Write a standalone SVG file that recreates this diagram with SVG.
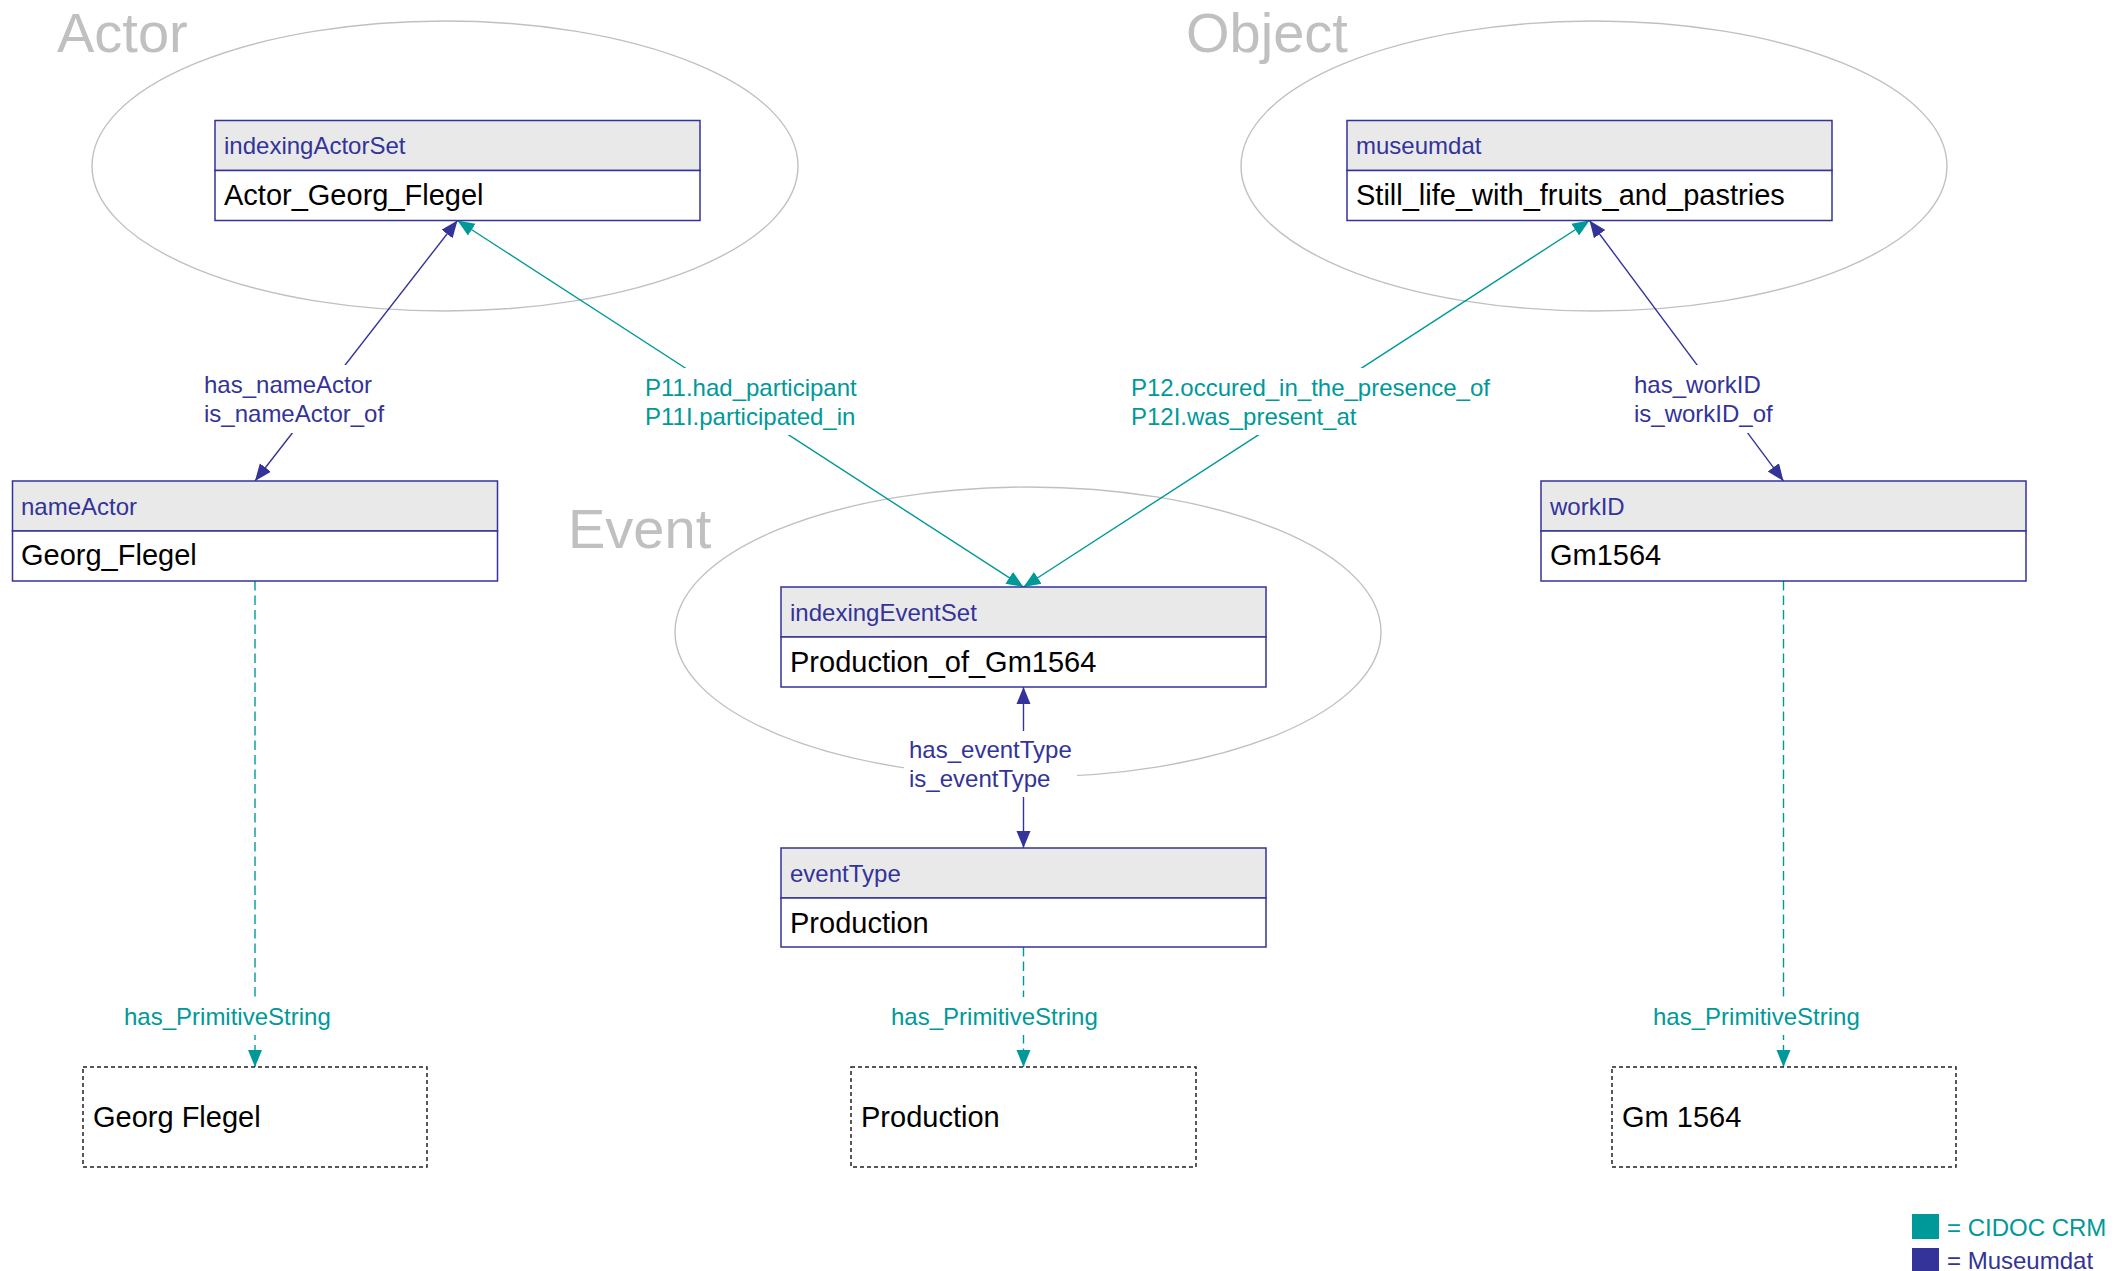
<svg xmlns="http://www.w3.org/2000/svg" width="2122" height="1271" viewBox="0 0 2122 1271">
<style>
  text { font-family: "Liberation Sans", Arial, sans-serif; }
  .grp { fill: none; stroke: #c0c0c0; stroke-width: 1.4; }
  .grptitle { font-size: 56px; fill: #c0c0c0; }
  .hdr { fill: #e9e9e9; stroke: #333399; stroke-width: 1.5; }
  .body { fill: #ffffff; stroke: #333399; stroke-width: 1.5; }
  .hdrtxt { font-size: 24px; fill: #333399; }
  .bodytxt { font-size: 29px; fill: #000000; }
  .lit { fill: #ffffff; stroke: #222222; stroke-width: 1.5; stroke-dasharray: 4 3; }
  .crm { stroke: #009999; stroke-width: 1.4; fill: none; }
  .mdat { stroke: #333399; stroke-width: 1.4; fill: none; }
  .dash { stroke-dasharray: 9.5 5; }
  .lblbg { fill: #ffffff; stroke: none; }
  .lcrm { font-size: 24px; fill: #009999; }
  .lmdat { font-size: 24px; fill: #333399; }
</style>
<defs>
  <marker id="arrCrm" markerUnits="userSpaceOnUse" markerWidth="18" markerHeight="16" viewBox="0 0 18 16" refX="17" refY="8" orient="auto-start-reverse">
    <path d="M0,1 L17,8 L0,15 z" fill="#009999"/>
  </marker>
  <marker id="arrMdat" markerUnits="userSpaceOnUse" markerWidth="18" markerHeight="16" viewBox="0 0 18 16" refX="17" refY="8" orient="auto-start-reverse">
    <path d="M0,1 L17,8 L0,15 z" fill="#333399"/>
  </marker>
</defs>
<rect x="0" y="0" width="2122" height="1271" fill="#ffffff"/>

<!-- Groups -->
<g id="group-actor">
  <ellipse class="grp" cx="445" cy="166" rx="353" ry="145"/>
  <text class="grptitle" x="57" y="52">Actor</text>
</g>
<g id="group-object">
  <ellipse class="grp" cx="1594" cy="166" rx="353" ry="145"/>
  <text class="grptitle" x="1186" y="52">Object</text>
</g>
<g id="group-event">
  <ellipse class="grp" cx="1028" cy="632" rx="353" ry="145"/>
  <text class="grptitle" x="568" y="548">Event</text>
</g>

<!-- Connectors -->
<g id="connectors">
  <line class="mdat" x1="457.5" y1="220.5" x2="255" y2="481" marker-start="url(#arrMdat)" marker-end="url(#arrMdat)"/>
  <line class="crm" x1="457.5" y1="220.5" x2="1023.5" y2="587" marker-start="url(#arrCrm)" marker-end="url(#arrCrm)"/>
  <line class="crm" x1="1589.5" y1="220.5" x2="1023.5" y2="587" marker-start="url(#arrCrm)" marker-end="url(#arrCrm)"/>
  <line class="mdat" x1="1589.5" y1="220.5" x2="1783.5" y2="481" marker-start="url(#arrMdat)" marker-end="url(#arrMdat)"/>
  <line class="mdat" x1="1023.5" y1="687" x2="1023.5" y2="848" marker-start="url(#arrMdat)" marker-end="url(#arrMdat)"/>
  <line class="crm dash" x1="255" y1="581" x2="255" y2="1067" marker-end="url(#arrCrm)"/>
  <line class="crm dash" x1="1023.5" y1="947" x2="1023.5" y2="1067" marker-end="url(#arrCrm)"/>
  <line class="crm dash" x1="1783.5" y1="581" x2="1783.5" y2="1067" marker-end="url(#arrCrm)"/>
</g>

<!-- Connector labels -->
<g id="connector-labels">
  <g id="lbl-has_nameActor">
    <rect class="lblbg" x="200" y="365" width="188" height="68"/>
    <text class="lmdat" x="204" y="393">has_nameActor</text>
    <text class="lmdat" x="204" y="422">is_nameActor_of</text>
  </g>
  <g id="lbl-P11">
    <rect class="lblbg" x="641" y="368" width="222" height="67"/>
    <text class="lcrm" x="645" y="396">P11.had_participant</text>
    <text class="lcrm" x="645" y="425">P11I.participated_in</text>
  </g>
  <g id="lbl-P12">
    <rect class="lblbg" x="1127" y="368" width="368" height="67"/>
    <text class="lcrm" x="1131" y="396">P12.occured_in_the_presence_of</text>
    <text class="lcrm" x="1131" y="425">P12I.was_present_at</text>
  </g>
  <g id="lbl-has_workID">
    <rect class="lblbg" x="1630" y="365" width="147" height="68"/>
    <text class="lmdat" x="1634" y="393">has_workID</text>
    <text class="lmdat" x="1634" y="422">is_workID_of</text>
  </g>
  <g id="lbl-has_eventType">
    <rect class="lblbg" x="904" y="731" width="173" height="66"/>
    <text class="lmdat" x="909" y="758">has_eventType</text>
    <text class="lmdat" x="909" y="787">is_eventType</text>
  </g>
  <g id="lbl-prim-left">
    <rect class="lblbg" x="120" y="997" width="214" height="38"/>
    <text class="lcrm" x="124" y="1025">has_PrimitiveString</text>
  </g>
  <g id="lbl-prim-mid">
    <rect class="lblbg" x="887" y="997" width="214" height="38"/>
    <text class="lcrm" x="891" y="1025">has_PrimitiveString</text>
  </g>
  <g id="lbl-prim-right">
    <rect class="lblbg" x="1649" y="997" width="214" height="38"/>
    <text class="lcrm" x="1653" y="1025">has_PrimitiveString</text>
  </g>
</g>

<!-- Nodes -->
<g id="node-indexingActorSet">
  <rect class="hdr" x="215" y="120.5" width="485" height="50"/>
  <rect class="body" x="215" y="170.5" width="485" height="50"/>
  <text class="hdrtxt" x="224" y="154">indexingActorSet</text>
  <text class="bodytxt" x="224" y="205">Actor_Georg_Flegel</text>
</g>
<g id="node-museumdat">
  <rect class="hdr" x="1347" y="120.5" width="485" height="50"/>
  <rect class="body" x="1347" y="170.5" width="485" height="50"/>
  <text class="hdrtxt" x="1356" y="154">museumdat</text>
  <text class="bodytxt" x="1356" y="205">Still_life_with_fruits_and_pastries</text>
</g>
<g id="node-nameActor">
  <rect class="hdr" x="12.5" y="481" width="485" height="50"/>
  <rect class="body" x="12.5" y="531" width="485" height="50"/>
  <text class="hdrtxt" x="21" y="515">nameActor</text>
  <text class="bodytxt" x="21" y="565">Georg_Flegel</text>
</g>
<g id="node-workID">
  <rect class="hdr" x="1541" y="481" width="485" height="50"/>
  <rect class="body" x="1541" y="531" width="485" height="50"/>
  <text class="hdrtxt" x="1550" y="515">workID</text>
  <text class="bodytxt" x="1550" y="565">Gm1564</text>
</g>
<g id="node-indexingEventSet">
  <rect class="hdr" x="781" y="587" width="485" height="50"/>
  <rect class="body" x="781" y="637" width="485" height="50"/>
  <text class="hdrtxt" x="790" y="621">indexingEventSet</text>
  <text class="bodytxt" x="790" y="672">Production_of_Gm1564</text>
</g>
<g id="node-eventType">
  <rect class="hdr" x="781" y="848" width="485" height="50"/>
  <rect class="body" x="781" y="898" width="485" height="49"/>
  <text class="hdrtxt" x="790" y="882">eventType</text>
  <text class="bodytxt" x="790" y="933">Production</text>
</g>
<g id="node-lit-georg-flegel">
  <rect class="lit" x="83" y="1067" width="344" height="100"/>
  <text class="bodytxt" x="93" y="1127">Georg Flegel</text>
</g>
<g id="node-lit-production">
  <rect class="lit" x="851" y="1067" width="345" height="100"/>
  <text class="bodytxt" x="861" y="1127">Production</text>
</g>
<g id="node-lit-gm1564">
  <rect class="lit" x="1612" y="1067" width="344" height="100"/>
  <text class="bodytxt" x="1622" y="1127">Gm 1564</text>
</g>

<!-- Legend -->
<g id="legend">
  <rect x="1912" y="1214" width="27" height="25" fill="#009999"/>
  <text x="1947" y="1236" font-size="24" fill="#009999">= CIDOC CRM</text>
  <rect x="1912" y="1248" width="27" height="25" fill="#333399"/>
  <text x="1947" y="1269" font-size="24" fill="#333399">= Museumdat</text>
</g>
</svg>
